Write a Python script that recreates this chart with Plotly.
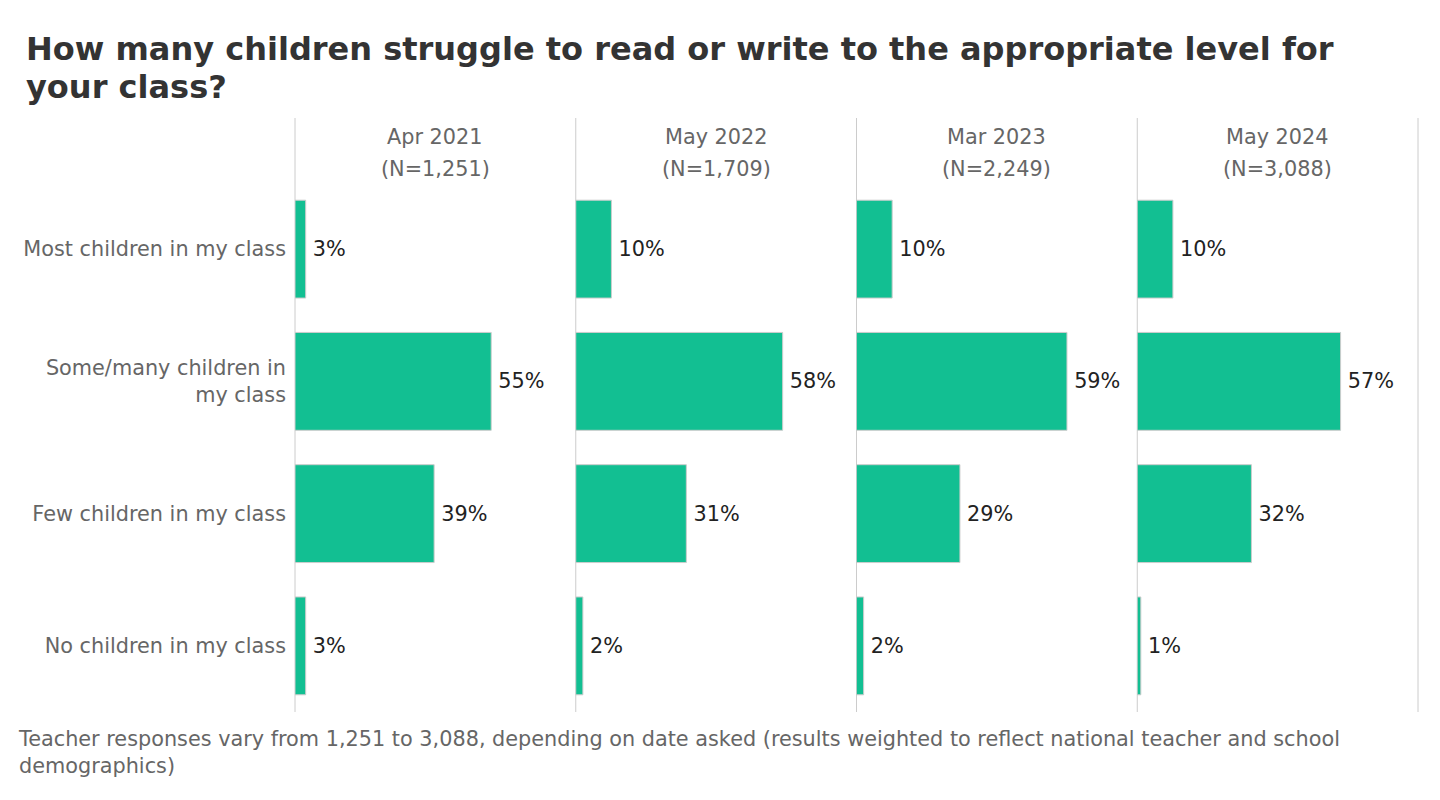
import plotly.graph_objects as go

categories = ["Most children in my class", "Some/many children in my class",
              "Few children in my class", "No children in my class"]
tick_labels = ["Most children in my class", "Some/many children in<br>my class",
               "Few children in my class", "No children in my class"]
waves = ["Apr 2021", "May 2022", "Mar 2023", "May 2024"]
sample_sizes = ["1,251", "1,709", "2,249", "3,088"]
apr_2021 = [3, 55, 39, 3]
may_2022 = [10, 58, 31, 2]
mar_2023 = [10, 59, 29, 2]
may_2024 = [10, 57, 32, 1]
series = [apr_2021, may_2022, mar_2023, may_2024]
title_lines = ["How many children struggle to read or write to the appropriate level for",
               "your class?"]

W, H = 1440, 800
L, R, T, B = 287, 30, 175, 96
pw = (W - L - R)
ph = (H - T - B)
FS = 20.8


def py(y_px):
    """pixel row (page coords) -> paper y"""
    return 1 + (T - y_px) / ph


fig = go.Figure()
n = len(waves)
for i, vals in enumerate(series):
    ax = "" if i == 0 else str(i + 1)
    fig.add_trace(go.Bar(
        y=categories, x=vals, orientation="h",
        xaxis="x" + ax, yaxis="y",
        marker=dict(color="#12BF92", line=dict(color="#cccccc", width=1)),
        text=[f"\u2009{v}%" for v in vals], textposition="outside",
        textfont=dict(family="DejaVu Sans", size=FS, color="#222222"),
        constraintext="none", cliponaxis=False, showlegend=False,
        hoverinfo="skip",
    ))
    d0, d1 = i / n, (i + 1) / n
    fig.update_layout(**{
        "xaxis" + ax: dict(domain=[d0, d1], range=[0, 78.7], showgrid=False,
                           zeroline=False, showticklabels=False, fixedrange=True,
                           anchor="y")
    })
    for txt, yc in ((waves[i], 129), (f"(N={sample_sizes[i]})", 161)):
        fig.add_annotation(
            xref="paper", yref="paper", x=(d0 + d1) / 2, y=py(yc),
            text=txt, showarrow=False, xanchor="center", yanchor="middle",
            font=dict(family="DejaVu Sans", size=FS, color="#666666"),
        )

for k in range(n + 1):
    fig.add_shape(type="line", xref="paper", yref="paper",
                  x0=k / n, x1=k / n, y0=0, y1=py(110),
                  line=dict(color="#cccccc", width=1), layer="below")

fig.update_layout(
    width=W, height=H,
    margin=dict(l=L, r=R, t=T, b=B),
    paper_bgcolor="white", plot_bgcolor="white",
    bargap=0.26,
    font=dict(family="DejaVu Sans", color="#666666"),
    yaxis=dict(categoryorder="array", categoryarray=categories,
               tickvals=categories, ticktext=tick_labels,
               autorange="reversed", showgrid=False, zeroline=False,
               ticks="", ticklabelstandoff=8,
               tickfont=dict(family="DejaVu Sans", size=FS, color="#666666")),
)

for txt, yc in zip(title_lines, (41, 79)):
    fig.add_annotation(
        xref="paper", yref="paper", x=(16 - L) / pw, y=py(yc),
        text=f"<b>{txt}</b>",
        showarrow=False, xanchor="left", yanchor="middle", align="left",
        font=dict(family="DejaVu Sans", size=32, color="#333333"),
    )

fig.add_annotation(
    xref="paper", yref="paper", x=(8 - L) / pw, y=py(744),
    text="Teacher responses vary from 1,251 to 3,088, depending on date asked (results weighted to reflect national teacher and school<br>demographics)",
    showarrow=False, xanchor="left", yanchor="middle", align="left",
    font=dict(family="DejaVu Sans", size=FS, color="#666666"),
)

fig.write_html("out.html")
